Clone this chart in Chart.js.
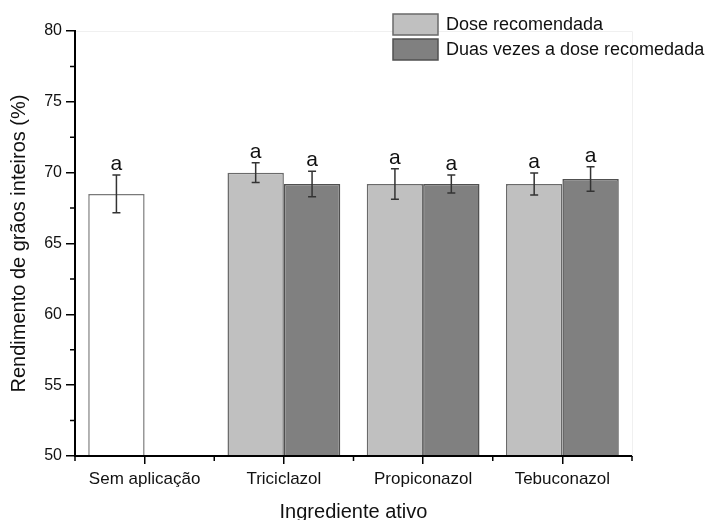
<!DOCTYPE html>
<html>
<head>
<meta charset="utf-8">
<script src="https://cdn.jsdelivr.net/npm/chart.js@4.4.1/dist/chart.umd.min.js"></script>
<style>
  html, body { margin: 0; padding: 0; background: #fff; }
  #wrap { position: relative; width: 713px; height: 520px; }
</style>
</head>
<body>
<div id="wrap"><canvas id="grainChart" width="713" height="520"></canvas></div>
<script>
// categorias e séries
const categories = ['Sem aplicação', 'Triciclazol', 'Propiconazol', 'Tebuconazol'];
const seriesNames = ['Dose recomendada', 'Duas vezes a dose recomedada'];
const doseRecomendada = [68.5, 70.0, 69.2, 69.2];
const doseDupla = [null, 69.2, 69.2, 69.55];
const erroRecomendada = [1.33, 0.7, 1.08, 0.78];
const erroDupla = [null, 0.9, 0.64, 0.86];
const letras = [['a', 'a', 'a', 'a'], [null, 'a', 'a', 'a']];
const yTicks = [50, 55, 60, 65, 70, 75, 80];

const FONT = "'Liberation Sans', Arial, sans-serif";
const fillRec = ['#ffffff', '#c0c0c0', '#c0c0c0', '#c0c0c0'];
const borderRec = ['#7a7a7a', '#6a6a6a', '#6a6a6a', '#6a6a6a'];

// barras de erro + letras
const errorBars = {
    id: 'errorBars',
    afterDatasetsDraw(chart) {
        const ctx = chart.ctx;
        const y = chart.scales.y;
        const errs = [erroRecomendada, erroDupla];
        ctx.save();
        chart.data.datasets.forEach((ds, di) => {
            const meta = chart.getDatasetMeta(di);
            meta.data.forEach((bar, i) => {
                const v = ds.data[i];
                if (v == null) return;
                const e = errs[di][i];
                const top = y.getPixelForValue(v + e);
                const bot = y.getPixelForValue(v - e);
                ctx.strokeStyle = '#333';
                ctx.lineWidth = 1.5;
                ctx.beginPath();
                ctx.moveTo(bar.x, top); ctx.lineTo(bar.x, bot);
                ctx.moveTo(bar.x - 4, top); ctx.lineTo(bar.x + 4, top);
                ctx.moveTo(bar.x - 4, bot); ctx.lineTo(bar.x + 4, bot);
                ctx.stroke();
                if (letras[di][i]) {
                    ctx.fillStyle = '#111';
                    ctx.font = '21px ' + FONT;
                    ctx.textAlign = 'center';
                    ctx.textBaseline = 'alphabetic';
                    ctx.fillText(letras[di][i], bar.x, top - 5);
                }
            });
        });
        ctx.restore();
    }
};

// moldura clara, ticks menores, eixos e legenda
const decor = {
    id: 'decor',
    beforeDatasetsDraw(chart) {
        const { ctx, chartArea: a } = chart;
        ctx.save();
        ctx.strokeStyle = '#f0f0f0';
        ctx.lineWidth = 1;
        ctx.beginPath();
        ctx.moveTo(a.left, a.top + 0.5); ctx.lineTo(a.right + 0.5, a.top + 0.5);
        ctx.lineTo(a.right + 0.5, a.bottom);
        ctx.stroke();
        ctx.restore();
    },
    afterDraw(chart) {
        const { ctx, chartArea: a, scales } = chart;
        ctx.save();
        // eixos por cima das barras
        ctx.strokeStyle = '#000';
        ctx.lineWidth = 2;
        ctx.beginPath();
        ctx.moveTo(a.left, a.top); ctx.lineTo(a.left, a.bottom);
        ctx.lineTo(a.right, a.bottom);
        ctx.stroke();

        ctx.lineWidth = 1.5;
        ctx.beginPath();
        // menores no eixo y
        for (let k = 0; k < yTicks.length - 1; k++) {
            const py = scales.y.getPixelForValue((yTicks[k] + yTicks[k + 1]) / 2);
            ctx.moveTo(a.left - 5, py); ctx.lineTo(a.left, py);
        }
        // menores no eixo x (bordas das categorias)
        const step = scales.x.getPixelForValue(1) - scales.x.getPixelForValue(0);
        for (let k = 0; k <= categories.length; k++) {
            const px = scales.x.getPixelForValue(0) - step / 2 + k * step;
            ctx.moveTo(px, a.bottom); ctx.lineTo(px, a.bottom + 5);
        }
        ctx.stroke();

        // legenda
        const lx = 393, ly = 14, bw = 45, bh = 21;
        chart.data.datasets.forEach((ds, di) => {
            const by = ly + di * 25;
            ctx.fillStyle = di === 0 ? '#c0c0c0' : '#808080';
            ctx.fillRect(lx, by, bw, bh);
            ctx.strokeStyle = di === 0 ? '#6a6a6a' : '#505050';
            ctx.lineWidth = 1.5;
            ctx.strokeRect(lx, by, bw, bh);
            ctx.fillStyle = '#111';
            ctx.font = '18px ' + FONT;
            ctx.textAlign = 'left';
            ctx.textBaseline = 'middle';
            ctx.fillText(seriesNames[di], lx + bw + 8, by + bh / 2 + 1);
        });
        ctx.restore();
    }
};

new Chart(document.getElementById('grainChart'), {
    type: 'bar',
    data: {
        labels: categories,
        datasets: [
            {
                label: seriesNames[0],
                data: doseRecomendada,
                backgroundColor: fillRec,
                borderColor: borderRec,
                borderWidth: 1.5
            },
            {
                label: seriesNames[1],
                data: doseDupla,
                backgroundColor: '#808080',
                borderColor: '#505050',
                borderWidth: 1.5
            }
        ]
    },
    options: {
        responsive: false,
        animation: false,
        events: [],
        layout: { padding: { top: 31, right: 81, left: 0, bottom: 0 } },
        datasets: { bar: { categoryPercentage: 0.81, barPercentage: 1.0 } },
        scales: {
            x: {
                offset: true,
                grid: { display: true, offset: false, drawOnChartArea: false, tickLength: 8, color: '#000', lineWidth: 1.5 },
                border: { display: true, color: '#000', width: 2 },
                ticks: { color: '#111', font: { family: FONT, size: 17 }, padding: 5, maxRotation: 0 },
                title: { display: true, text: 'Ingrediente ativo', color: '#111', font: { family: FONT, size: 20 }, padding: { top: 2, bottom: -4 } },
                afterFit(scale) { scale.height = 64; }
            },
            y: {
                min: 50,
                max: 80,
                afterBuildTicks(scale) { scale.ticks = yTicks.map(v => ({ value: v })); },
                grid: { display: true, drawOnChartArea: false, tickLength: 9, color: '#000', lineWidth: 1.5 },
                border: { display: true, color: '#000', width: 2 },
                ticks: { color: '#111', font: { family: FONT, size: 16 }, padding: 4 },
                title: { display: true, text: 'Rendimento de grãos inteiros (%)', color: '#111', font: { family: FONT, size: 20 }, padding: { top: 7, bottom: 0 } },
                afterFit(scale) { scale.width = 75; }
            }
        },
        plugins: {
            legend: { display: false },
            tooltip: { enabled: false }
        }
    },
    plugins: [decor, errorBars]
});
</script>
</body>
</html>
